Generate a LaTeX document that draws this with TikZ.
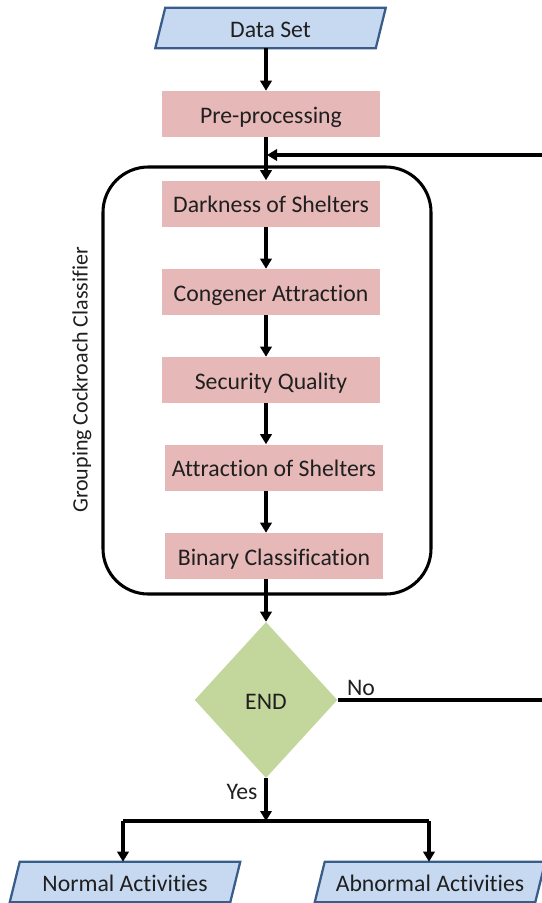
\documentclass[tikz,border=0pt]{standalone}
\usepackage{fontspec}
\setmainfont{Carlito}[RawFeature=-liga]
\usetikzlibrary{shapes.geometric,calc,backgrounds,arrows.meta}
\definecolor{pinkf}{HTML}{E6B9B8}
\definecolor{bluef}{HTML}{C6D9F1}
\definecolor{blueb}{HTML}{385D8A}
\definecolor{greenf}{HTML}{C3D69B}
\newcommand\parashape[1]{%
 \begin{pgfonlayer}{background}
 \filldraw[fill=bluef,draw=blueb,line width=1.7pt]
   ($(#1.south west)+(-5,0)$) -- ($(#1.north west)+(5,0)$) -- ($(#1.north east)+(5,0)$) -- ($(#1.south east)+(-5,0)$) -- cycle;
 \end{pgfonlayer}}
\begin{document}
\begin{tikzpicture}[x=0.75pt,y=-0.75pt,
 txt/.style={font=\fontsize{17.8}{21}\selectfont, text=black!88},
 boxtxt/.style={txt, text height=13.5pt, text depth=0pt},
 proc/.style={boxtxt, fill=pinkf, minimum width=163.5pt, minimum height=34.5pt, inner sep=0pt},
 io/.style={boxtxt, minimum width=165pt, minimum height=30pt, inner sep=0pt},
 arr/.style={line width=2.6pt, -{Triangle[length=7.5pt,width=8.5pt]}},
 ln/.style={line width=2.6pt},
 grpbox/.style={line width=2.3pt, rounded corners=34pt}
]
\useasboundingbox (0,0) rectangle (542,903);
\coordinate (ax) at (266,0);
\node[io] (ds) at (270.5,28) {Data Set};
\parashape{ds}
\node[proc] (pre) at (271,114) {Pre-processing};
\coordinate (g1) at (103,167);
\coordinate (g2) at (431,594);
\draw[grpbox] (g1) rectangle (g2);
\node[proc] (dark) at (271,203.5) {Darkness of Shelters};
\node[proc] (cong) at (271,292) {Congener Attraction};
\node[proc] (sec) at (271,380) {Security Quality};
\node[proc] (attr) at (274,467.5) {Attraction of Shelters};
\node[proc] (bin) at (274,556) {Binary Classification};
\node[diamond, fill=greenf, minimum width=107pt, minimum height=117pt, inner sep=0pt, boxtxt] (end) at (266,700) {END};
\node[io] (norm) at (125,882) {Normal Activities};
\parashape{norm}
\node[io] (abn) at (430,882) {Abnormal Activities};
\parashape{abn}
\node[rotate=90, font=\fontsize{16.5}{20}\selectfont, text=black!88] (grp) at (82,380) {Grouping Cockroach Classifier};
\node[txt] (no) at (361,688) {No};
\node[txt] (yes) at (242,792) {Yes};
% connectors
\draw[arr] (ds.south -| ax) -- (pre.north -| ax);
\draw[arr] (pre.south -| ax) -- (dark.north -| ax);
\draw[arr] (dark.south -| ax) -- (cong.north -| ax);
\draw[arr] (cong.south -| ax) -- (sec.north -| ax);
\draw[arr] (sec.south -| ax) -- (attr.north -| ax);
\draw[arr] (attr.south -| ax) -- (bin.north -| ax);
\draw[arr] (bin.south -| ax) -- (end.north);
\coordinate (loopin) at (267,155);
\coordinate (rt) at (550,0);
\draw[arr] (end.east) -- (end.east -| rt) -- (loopin -| rt) -- (loopin);
\coordinate (jn) at (266,821);
\coordinate (jl) at (123,821);
\coordinate (jr) at (429,821);
\draw[arr] (end.south) -- (jn);
\draw[ln] (jl) -- (jr);
\draw[arr] (jl) -- (jl |- norm.north);
\draw[arr] (jr) -- (jr |- abn.north);
\end{tikzpicture}
\end{document}
